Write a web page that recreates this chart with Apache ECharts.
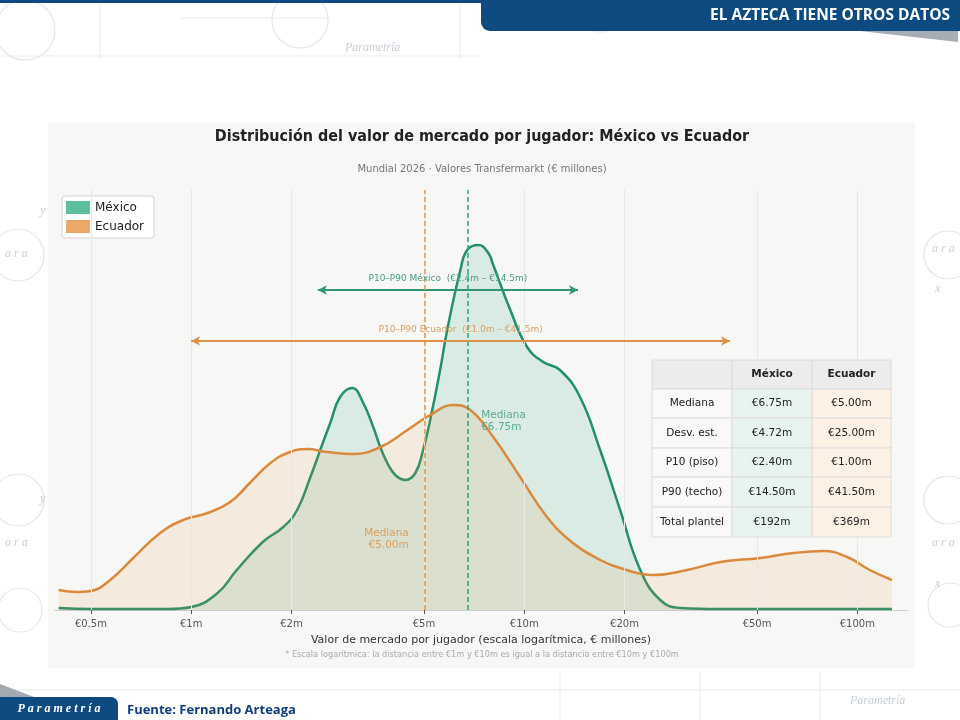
<!DOCTYPE html>
<html>
<head>
<meta charset="utf-8">
<script src="https://cdn.jsdelivr.net/npm/echarts@6/dist/echarts.min.js"></script>
<style>
  html, body { margin: 0; padding: 0; background: #fff; }
  #main { width: 960px; height: 720px; }
</style>
</head>
<body>
<div id="main"></div>
<script>
// eje x (escala log, € millones)
var tickValues = [0.5, 1, 2, 5, 10, 20, 50, 100];
var tickLabels = ['€0.5m', '€1m', '€2m', '€5m', '€10m', '€20m', '€50m', '€100m'];
var teams = ['México', 'Ecuador'];

// curvas de densidad
var mexicoX = [0.40, 0.50, 0.85, 1.0, 1.2, 1.37, 1.64, 1.89, 2.08, 2.28, 2.49, 2.615, 2.80, 3.045, 3.285, 3.52, 3.695, 3.88, 4.10, 4.39, 4.71, 4.97, 5.22, 5.59, 5.87, 6.43, 6.74, 7.28, 7.80, 8.07, 9.08, 10.2, 11.4, 12.8, 14.7, 16.9, 19.4, 22.3, 25.6, 29.4, 38.8, 67.5, 127];
var mexicoDensity = [0.002, 0.001, 0.001, 0.003, 0.017, 0.040, 0.068, 0.083, 0.100, 0.133, 0.168, 0.187, 0.213, 0.222, 0.207, 0.183, 0.163, 0.147, 0.135, 0.130, 0.137, 0.160, 0.190, 0.240, 0.280, 0.340, 0.360, 0.365, 0.357, 0.345, 0.300, 0.263, 0.248, 0.240, 0.213, 0.160, 0.100, 0.040, 0.010, 0.002, 0.001, 0.001, 0.001];
var ecuadorX = [0.40, 0.455, 0.50, 0.571, 0.670, 0.807, 0.946, 1.12, 1.31, 1.50, 1.73, 1.98, 2.23, 2.56, 3.06, 3.70, 4.46, 5.22, 6.12, 6.89, 8.07, 9.72, 11.7, 14.0, 16.9, 19.4, 24.4, 30.8, 38.8, 51.2, 64.3, 79.1, 93.3, 109, 127];
var ecuadorDensity = [0.020, 0.018, 0.019, 0.030, 0.052, 0.077, 0.090, 0.097, 0.108, 0.127, 0.147, 0.158, 0.161, 0.158, 0.156, 0.163, 0.180, 0.195, 0.205, 0.200, 0.173, 0.133, 0.093, 0.067, 0.050, 0.042, 0.035, 0.040, 0.048, 0.052, 0.057, 0.059, 0.053, 0.040, 0.030];

// estadisticos (México, Ecuador)
var medians = [6.75, 5.00];
var stdDevs = [4.72, 25.00];
var p10 = [2.40, 1.00];
var p90 = [14.50, 41.50];
var totals = [192, 369];
var statRows = ['Mediana', 'Desv. est.', 'P10 (piso)', 'P90 (techo)', 'Total plantel'];

var FONT = 'DejaVu Sans';
var GREEN = '#23906a';
var ORANGE = '#da8a3c';

function lg(v) { return Math.log10(v); }
function pairs(xs, ys) { return xs.map(function (x, i) { return [lg(x), ys[i]]; }); }
function eur(v) { return '€' + v.toFixed(2) + 'm'; }
function eur1(v) { return '€' + v.toFixed(1) + 'm'; }

var chart = echarts.init(document.getElementById('main'));

// ---- decoracion de la lamina + tabla ----
var g = [];
// fondo del panel del grafico
g.push({ type: 'rect', z: -5, shape: { x: 48, y: 122, width: 867, height: 546 }, style: { fill: '#f7f7f5' } });
// marca de agua tenue
var wm = { stroke: '#cfd6e0', fill: 'none', lineWidth: 1.2, opacity: 0.6 };
[[18, 255, 26], [18, 500, 26], [20, 610, 22], [948, 255, 24], [948, 500, 24], [950, 605, 22], [25, 30, 30], [300, 20, 28], [600, 10, 22]].forEach(function (c) {
  g.push({ type: 'circle', z: -6, shape: { cx: c[0], cy: c[1], r: c[2] }, style: wm });
});
[[0, 56, 480, 56], [100, 0, 100, 60], [180, 18, 330, 18], [460, 0, 460, 60], [0, 690, 960, 690], [560, 672, 560, 720], [700, 672, 700, 720], [820, 672, 820, 720]].forEach(function (l) {
  g.push({ type: 'line', z: -6, shape: { x1: l[0], y1: l[1], x2: l[2], y2: l[3] }, style: { stroke: '#d8dee6', lineWidth: 1, opacity: 0.6 } });
});
[['y', 40, 205], ['a r a', 5, 248], ['x', 935, 283], ['y', 40, 493], ['a r a', 5, 537], ['x', 935, 578], ['a r a', 932, 243], ['a r a', 932, 537], ['Parametría', 345, 42], ['Parametría', 850, 695]].forEach(function (t) {
  g.push({ type: 'text', z: -6, x: t[1], y: t[2], style: { text: t[0], fill: '#b9c3d0', opacity: 0.8, font: 'italic 12px "Liberation Serif"' } });
});
// banner superior
g.push({ type: 'rect', z: 5, shape: { x: 0, y: 0, width: 960, height: 3 }, style: { fill: '#0c4a80' } });
g.push({ type: 'polygon', z: 4, shape: { points: [[860, 31], [958, 31], [958, 42]] }, style: { fill: '#a7adb4' } });
g.push({ type: 'rect', z: 5, shape: { x: 481, y: 0, width: 479, height: 31, r: [0, 0, 0, 9] }, style: { fill: '#0c4a80' } });
g.push({ type: 'text', z: 6, x: 950, y: 16, style: { text: 'EL AZTECA TIENE OTROS DATOS', fill: '#fff', font: 'bold 15.5px "Liberation Sans Narrow", "Open Sans", sans-serif', align: 'right', verticalAlign: 'middle', textAlign: 'right', textVerticalAlign: 'middle' } });
// pie de pagina
g.push({ type: 'polygon', z: 4, shape: { points: [[0, 684], [34, 697], [0, 697]] }, style: { fill: '#a3aab2' } });
g.push({ type: 'rect', z: 5, shape: { x: 0, y: 697, width: 118, height: 23, r: [0, 7, 0, 0] }, style: { fill: '#0c4a80' } });
g.push({ type: 'text', z: 6, x: 59, y: 709, style: { text: 'P a r a m e t r í a', fill: '#fff', font: 'bold italic 12px "Liberation Serif"', align: 'center', verticalAlign: 'middle', textAlign: 'center', textVerticalAlign: 'middle' } });
g.push({ type: 'text', z: 6, x: 127, y: 710, style: { text: 'Fuente: Fernando Arteaga', fill: '#123f7a', font: 'bold 13px "Open Sans"', verticalAlign: 'middle', textVerticalAlign: 'middle' } });
// titulos
g.push({ type: 'text', x: 482, y: 137, scaleX: 0.87, style: { text: 'Distribución del valor de mercado por jugador: México vs Ecuador', fill: '#222', font: 'bold 16.5px "' + FONT + '"', align: 'center', verticalAlign: 'middle', textAlign: 'center', textVerticalAlign: 'middle' } });
g.push({ type: 'text', x: 482, y: 169, style: { text: 'Mundial 2026 · Valores Transfermarkt (€ millones)', fill: '#777', font: '10px "' + FONT + '"', align: 'center', verticalAlign: 'middle', textAlign: 'center', textVerticalAlign: 'middle' } });
g.push({ type: 'text', x: 482, y: 655, style: { text: '* Escala logarítmica: la distancia entre €1m y €10m es igual a la distancia entre €10m y €100m', fill: '#aaa', font: '8.2px "' + FONT + '"', align: 'center', verticalAlign: 'middle', textAlign: 'center', textVerticalAlign: 'middle' } });

// tabla de estadisticos
var stats = [medians, stdDevs, p10, p90];
var rows = [['', teams[0], teams[1]]];
statRows.forEach(function (name, i) {
  if (i < 4) rows.push([name, eur(stats[i][0]), eur(stats[i][1])]);
  else rows.push([name, '€' + totals[0] + 'm', '€' + totals[1] + 'm']);
});
var colX = [652, 732, 812, 891];
var rowY = [360, 389, 418, 448, 477, 507, 537];
var cellFill = [['#ececec', '#ececec', '#ececec'], ['#f9f9f8', '#e8f4ee', '#fdf1e6']];
rows.forEach(function (r, ri) {
  r.forEach(function (txt, ci) {
    var x = colX[ci], y = rowY[ri], w = colX[ci + 1] - x, h = rowY[ri + 1] - y;
    g.push({ type: 'rect', z: 10, shape: { x: x, y: y, width: w, height: h }, style: { fill: cellFill[ri === 0 ? 0 : 1][ci], stroke: '#dcdcdc', lineWidth: 1 } });
    g.push({ type: 'text', z: 11, x: x + w / 2, y: y + h / 2, style: { text: txt, fill: '#222', font: (ri === 0 ? 'bold ' : '') + '10.5px "' + FONT + '"', align: 'center', verticalAlign: 'middle', textAlign: 'center', textVerticalAlign: 'middle' } });
  });
});

function medianLine(v, color) {
  return { xAxis: lg(v), symbol: 'none', lineStyle: { color: color, type: [5, 3], width: 1.5 }, label: { show: false } };
}
function rangeArrow(a, b, y, color, text, textColor) {
  return [
    { coord: [lg(a), y], symbol: 'arrow', symbolSize: [7, 9], lineStyle: { color: color, type: 'solid', width: 1.8 },
      label: { show: true, position: 'middle', distance: 7, formatter: text, color: textColor, fontSize: 9, fontFamily: FONT } },
    { coord: [lg(b), y], symbol: 'arrow', symbolSize: [7, 9] }
  ];
}

var option = {
  backgroundColor: '#ffffff',
  animation: false,
  textStyle: { fontFamily: FONT },
  graphic: g,
  legend: {
    orient: 'vertical', left: 62, top: 196,
    data: [
      { name: teams[0], itemStyle: { color: '#5dbf9c' } },
      { name: teams[1], itemStyle: { color: '#eba866' } }
    ],
    icon: 'rect', itemWidth: 24, itemHeight: 13, itemGap: 6,
    backgroundColor: '#fff', borderColor: '#d3d3d3', borderWidth: 1, borderRadius: 3,
    padding: [5, 10, 5, 4],
    textStyle: { fontSize: 12, color: '#222', fontFamily: FONT }
  },
  grid: { left: 55, right: 53, top: 190, bottom: 110 },
  xAxis: {
    type: 'value', min: lg(0.39), max: lg(141),
    axisLine: { show: true, lineStyle: { color: '#cccccc', width: 1 } },
    axisTick: { show: true, customValues: tickValues.map(lg), length: 4, lineStyle: { color: '#555' } },
    axisLabel: {
      customValues: tickValues.map(lg), color: '#555', fontSize: 10, margin: 9, fontFamily: FONT,
      formatter: function (val) {
        for (var i = 0; i < tickValues.length; i++) if (Math.abs(lg(tickValues[i]) - val) < 1e-6) return tickLabels[i];
        return '';
      }
    },
    splitLine: { show: false },
    name: 'Valor de mercado por jugador (escala logarítmica, € millones)',
    nameLocation: 'middle', nameGap: 25,
    nameTextStyle: { fontSize: 11, color: '#333', fontFamily: FONT }
  },
  yAxis: { type: 'value', min: 0, max: 0.42, show: false },
  series: [
    {
      name: 'grid', type: 'line', z: 1, data: [[lg(0.5), 0]], showSymbol: false, silent: true,
      lineStyle: { opacity: 0 },
      markLine: { silent: true, symbol: 'none', animation: false, label: { show: false },
        lineStyle: { color: '#e8e8e6', width: 1, type: 'solid' },
        data: tickValues.map(function (v) { return { xAxis: lg(v) }; }) }
    },
    {
      name: teams[0], type: 'line', z: 2, smooth: 0.45, showSymbol: false,
      data: pairs(mexicoX, mexicoDensity),
      itemStyle: { color: '#5dbf9c' },
      lineStyle: { color: GREEN, width: 2.5 },
      areaStyle: { color: 'rgba(45,160,118,0.2)', origin: 'start' },
      markLine: { silent: true, symbol: 'none', animation: false,
        data: [medianLine(medians[0], '#3a9f7a'),
          rangeArrow(p10[0], p90[0], 0.320, '#2e9670', 'P10–P90 México  (' + eur1(p10[0]) + ' – ' + eur1(p90[0]) + ')', '#4a9e80')] }
    },
    {
      name: teams[1], type: 'line', z: 3, smooth: 0.45, showSymbol: false,
      data: pairs(ecuadorX, ecuadorDensity),
      itemStyle: { color: '#eba866' },
      lineStyle: { color: ORANGE, width: 2.5 },
      areaStyle: { color: 'rgba(230,140,60,0.18)', origin: 'start' },
      markLine: { silent: true, symbol: 'none', animation: false,
        data: [medianLine(medians[1], '#de9650'),
          rangeArrow(p10[1], p90[1], 0.269, '#de9248', 'P10–P90 Ecuador  (' + eur1(p10[1]) + ' – ' + eur1(p90[1]) + ')', '#d9a064')] }
    },
    {
      name: 'medLabels', type: 'scatter', z: 6, symbolSize: 0, silent: true,
      data: [
        { value: [lg(medians[0] * 1.1), 0.189], label: { position: 'right', distance: 0, align: 'left', color: '#3d9b7c', formatter: 'Mediana\n' + eur(medians[0]) } },
        { value: [lg(medians[1] * 0.9), 0.071], label: { position: 'left', distance: 0, align: 'right', color: '#d98f44', formatter: 'Mediana\n' + eur(medians[1]) } }
      ],
      label: { show: true, fontSize: 10.5, lineHeight: 12, fontFamily: FONT }
    }
  ]
};
chart.setOption(option);
</script>
</body>
</html>
